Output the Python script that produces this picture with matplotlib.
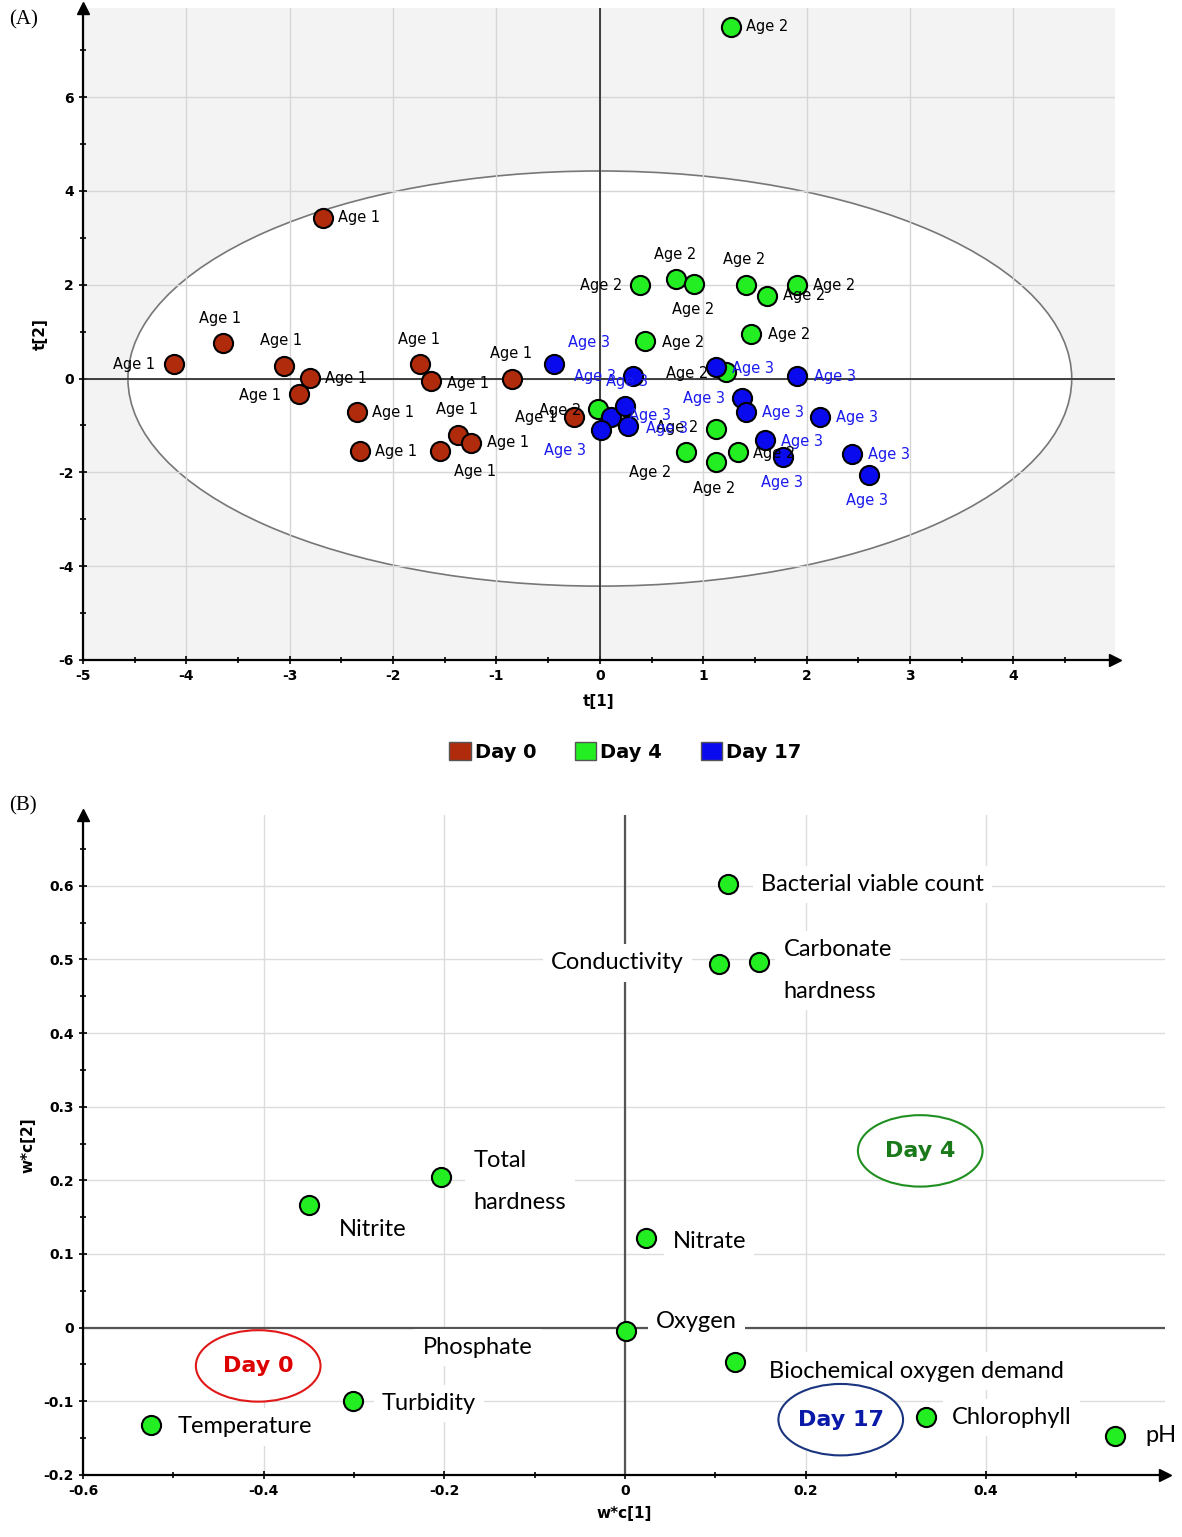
import numpy as np
import matplotlib
matplotlib.use('Agg')
import matplotlib.pyplot as plt
from matplotlib.patches import Ellipse, Patch

plt.rcParams['axes.unicode_minus'] = False

# panel A: PCA scores t[1], t[2]
day0_t1 = [-4.12, -3.65, -3.06, -2.80, -2.91, -2.68, -2.35, -2.32, -1.74, -1.63, -1.55, -1.37, -1.25, -0.85, -0.25]
day0_t2 = [0.30, 0.75, 0.26, 0.02, -0.34, 3.43, -0.71, -1.54, 0.30, -0.06, -1.54, -1.20, -1.37, 0.00, -0.81]
day4_t1 = [1.27, 0.39, 0.74, 0.91, 1.41, 1.62, 1.91, 1.46, 0.44, 1.22, -0.02, 1.12, 0.83, 1.12, 1.34]
day4_t2 = [7.50, 1.99, 2.12, 2.01, 1.99, 1.76, 1.99, 0.96, 0.79, 0.13, -0.64, -1.07, -1.56, -1.78, -1.56]
day17_t1 = [-0.44, 0.32, 1.12, 1.91, 1.38, 1.41, 2.13, 0.11, 0.24, 0.01, 0.27, 1.60, 1.77, 2.44, 2.60]
day17_t2 = [0.30, 0.06, 0.24, 0.06, -0.41, -0.71, -0.81, -0.81, -0.58, -1.09, -1.01, -1.31, -1.67, -1.61, -2.06]
groups = ['Day 0', 'Day 4', 'Day 17']
age_labels = ['Age 1', 'Age 2', 'Age 3']

# label offsets (pixels) for each point
off0 = [(-40, 0), (-2, 25), (-2, 26), (36, -1), (-39, -1), (36, 0), (36, -1), (36, -1),
        (-1, 25), (37, -2), (35, -21), (-1, 25), (37, 0), (-1, 25), (-38, -1)]
off4 = [(36, 0), (-39, 0), (-1, 25), (-1, -25), (-1, 26), (37, 0), (37, 0), (38, -1),
        (38, -1), (-39, -1), (-38, -2), (-38, 1), (-36, -21), (-1, -26), (36, -2)]
off17 = [(35, 22), (-38, -1), (37, -1), (38, -1), (-38, -1), (37, -1), (37, -1), (16, 35),
         (25, -10), (-36, -21), (39, -3), (37, -2), (-1, -26), (37, 0), (-2, -25)]

# panel B: loadings w*c[1], w*c[2]
variables = ['Bacterial viable count', 'Conductivity', 'Carbonate\n\nhardness', 'Total\n\nhardness',
             'Nitrite', 'Nitrate', 'Oxygen', 'Biochemical oxygen demand', 'Chlorophyll', 'pH',
             'Turbidity', 'Temperature']
wc1 = [0.114, 0.104, 0.148, -0.204, -0.350, 0.023, 0.001, 0.122, 0.333, 0.543, -0.301, -0.525]
wc2 = [0.602, 0.494, 0.497, 0.205, 0.167, 0.122, -0.005, -0.047, -0.121, -0.147, -0.099, -0.132]
offB = [(33, 0), (-35, 1), (25, -9), (33, -5), (30, -25), (27, -4), (30, 10), (34, -9),
        (26, -1), (30, 0), (29, -3), (27, -2)]

c0, c4, c17 = '#b02a0c', '#22ee22', '#0a0aee'

fig = plt.figure(figsize=(11.82, 15.37), dpi=100)

# ---------------- panel A ----------------
ax = fig.add_axes([0.0702, 0.5706, 0.8728, 0.4242])
ax.set_facecolor('#f3f3f3')
ax.set_xlim(-5, 4.98)
ax.set_ylim(-6, 7.9)
ax.set_axisbelow(True)
ax.add_patch(Ellipse((0, 0), 9.13, 8.85, facecolor='white', edgecolor='#777777', lw=1.2, zorder=0.3))
ax.set_xticks(np.arange(-5, 5, 1))
ax.set_xticks(np.arange(-5, 5, 0.5), minor=True)
ax.set_yticks(np.arange(-6, 7, 2))
ax.set_yticks(np.arange(-6, 8, 1), minor=True)
ax.grid(True, which='major', color='#d6d6d6', lw=1)
ax.axhline(0, color='#333333', lw=1.3, zorder=1)
ax.axvline(0, color='#333333', lw=1.3, zorder=1)
for s in ['top', 'right']:
    ax.spines[s].set_visible(False)
for s in ['left', 'bottom']:
    ax.spines[s].set_linewidth(1.6)
ax.tick_params(which='both', direction='inout', length=6, width=1.2)
ax.tick_params(which='minor', length=4)
for lab in ax.get_xticklabels() + ax.get_yticklabels():
    lab.set_fontweight('bold')
    lab.set_fontsize(10)
ax.plot(1, 0, '>k', ms=9, transform=ax.transAxes, clip_on=False)
ax.plot(0, 1, '^k', ms=9, transform=ax.transAxes, clip_on=False)
ax.set_xlabel('t[1]', fontsize=11, fontweight='bold', labelpad=8)
ax.set_ylabel('t[2]', fontsize=11, fontweight='bold', labelpad=8)

sets = [(day0_t1, day0_t2, c0, off0, age_labels[0], 'black'),
        (day4_t1, day4_t2, c4, off4, age_labels[1], 'black'),
        (day17_t1, day17_t2, c17, off17, age_labels[2], '#1a1aee')]
for xs, ys, col, offs, lab, tcol in sets:
    ax.scatter(xs, ys, s=190, c=col, edgecolors='black', linewidths=1.5, zorder=3)
    for x, y, o in zip(xs, ys, offs):
        ax.annotate(lab, (x, y), xytext=o, textcoords='offset pixels', ha='center', va='center',
                    fontsize=10.5, color=tcol, zorder=4)

handles = [Patch(facecolor=c, edgecolor='#555555') for c in [c0, c4, c17]]
leg = fig.legend(handles, groups, loc='center', bbox_to_anchor=(0.529, 0.511), ncol=3,
                 frameon=False, handlelength=1.1, handleheight=1.1, handletextpad=0.2,
                 columnspacing=2.0, prop={'weight': 'bold', 'size': 14})

fig.text(0.008, 0.987, '(A)', fontsize=15, family='Liberation Serif', va='center')
fig.text(0.008, 0.476, '(B)', fontsize=15, family='Liberation Serif', va='center')

# ---------------- panel B ----------------
bx = fig.add_axes([0.0702, 0.0404, 0.9154, 0.4293])
bx.set_xlim(-0.6, 0.598)
bx.set_ylim(-0.2, 0.696)
bx.set_axisbelow(True)
bx.set_xticks([-0.6, -0.4, -0.2, 0, 0.2, 0.4])
bx.set_xticklabels(['-0.6', '-0.4', '-0.2', '0', '0.2', '0.4'])
bx.set_xticks(np.arange(-0.6, 0.6, 0.1), minor=True)
bx.set_yticks(np.round(np.arange(-0.2, 0.61, 0.1), 1))
bx.set_yticklabels(['-0.2', '-0.1', '0', '0.1', '0.2', '0.3', '0.4', '0.5', '0.6'])
bx.set_yticks(np.arange(-0.2, 0.66, 0.05), minor=True)
bx.grid(True, which='major', color='#dcdcdc', lw=1)
bx.axhline(0, color='#555555', lw=1.6, zorder=1)
bx.axvline(0, color='#555555', lw=1.6, zorder=1)
for s in ['top', 'right']:
    bx.spines[s].set_visible(False)
for s in ['left', 'bottom']:
    bx.spines[s].set_linewidth(1.6)
bx.tick_params(which='both', direction='inout', length=6, width=1.2)
bx.tick_params(which='minor', length=4)
for lab in bx.get_xticklabels() + bx.get_yticklabels():
    lab.set_fontweight('bold')
    lab.set_fontsize(10)
bx.plot(1, 0, '>k', ms=9, transform=bx.transAxes, clip_on=False)
bx.plot(0, 1, '^k', ms=9, transform=bx.transAxes, clip_on=False)
bx.set_xlabel('w*c[1]', fontsize=11, fontweight='bold', labelpad=6)
bx.set_ylabel('w*c[2]', fontsize=11, fontweight='bold', labelpad=6)

bx.scatter(wc1, wc2, s=190, c=c4, edgecolors='black', linewidths=1.5, zorder=4)
for name, x, y, o in zip(variables, wc1, wc2, offB):
    ha = 'right' if o[0] < 0 else 'left'
    bx.annotate(name, (x, y), xytext=o, textcoords='offset pixels', ha=ha, va='center',
                fontsize=17, family='Lato', linespacing=1.0, zorder=3,
                bbox=dict(facecolor='white', edgecolor='none', pad=6))
bx.text(-0.224, -0.027, 'Phosphate', ha='left', va='center', fontsize=17, family='Lato', zorder=3,
        bbox=dict(facecolor='white', edgecolor='none', pad=6))

for (cx, cy), txt, ec, tc in [((0.327, 0.240), 'Day 4', '#1f8f1f', '#1a7a1a'),
                              ((-0.406, -0.052), 'Day 0', '#e01818', '#dd0000'),
                              ((0.239, -0.125), 'Day 17', '#1a3580', '#0a1aa8')]:
    bx.add_patch(Ellipse((cx, cy), 0.138, 0.097, facecolor='white', edgecolor=ec, lw=1.5, zorder=3))
    bx.text(cx, cy, txt, ha='center', va='center', fontsize=16, fontweight='bold', color=tc, zorder=5)

fig.savefig('out.png', dpi=100)
